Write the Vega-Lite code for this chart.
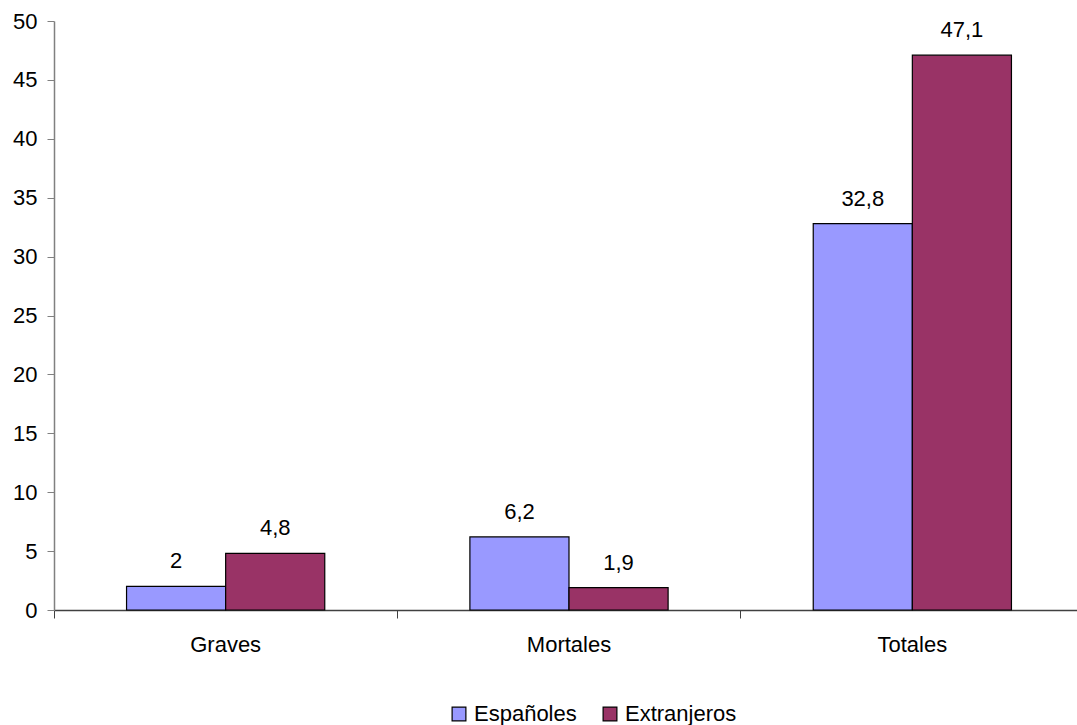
{
  "$schema": "https://vega.github.io/schema/vega-lite/v6.json",
  "width": 1030,
  "height": 589,
  "autosize": {"type": "none"},
  "padding": {"left": 54, "top": 21, "right": 0, "bottom": 115},
  "background": "white",
  "config": {
    "view": {"stroke": null},
    "font": "Liberation Sans",
    "locale": {"number": {"decimal": ",", "thousands": ".", "grouping": [3], "currency": ["", " €"]}}
  },
  "data": {
    "values": [
      {"categoria": "Graves", "grupo": "Españoles", "valor": 2},
      {"categoria": "Graves", "grupo": "Extranjeros", "valor": 4.8},
      {"categoria": "Mortales", "grupo": "Españoles", "valor": 6.2},
      {"categoria": "Mortales", "grupo": "Extranjeros", "valor": 1.9},
      {"categoria": "Totales", "grupo": "Españoles", "valor": 32.8},
      {"categoria": "Totales", "grupo": "Extranjeros", "valor": 47.1}
    ]
  },
  "resolve": {"axis": {"x": "independent"}},
  "layer": [
    {
      "mark": {"type": "bar", "stroke": "black", "strokeWidth": 1.2},
      "encoding": {
        "x": {
          "field": "categoria", "type": "nominal", "sort": null,
          "scale": {"paddingInner": 0.4227, "paddingOuter": 0.2113},
          "axis": {"orient": "bottom", "title": null, "labels": false, "bandPosition": -0.366, "domainColor": "#404040", "domainWidth": 1.5, "tickColor": "#404040", "tickSize": 8}
        },
        "xOffset": {"field": "grupo", "type": "nominal", "sort": null, "scale": {"paddingInner": 0, "paddingOuter": 0}},
        "y": {
          "field": "valor", "type": "quantitative",
          "scale": {"domain": [0, 50], "nice": false},
          "axis": {"title": null, "values": [0,5,10,15,20,25,30,35,40,45,50], "format": "d", "grid": false, "domainColor": "#808080", "domainWidth": 1.5, "tickColor": "#808080", "tickSize": 7, "labelFontSize": 22, "labelColor": "black", "labelPadding": 10}
        },
        "color": {
          "field": "grupo", "type": "nominal", "sort": null,
          "scale": {"domain": ["Españoles", "Extranjeros"], "range": ["#9999FF", "#993366"]},
          "legend": {
            "title": null, "orient": "none", "direction": "horizontal",
            "legendX": 394, "legendY": 682,
            "symbolType": "square", "symbolSize": 190, "symbolStrokeColor": "black", "symbolStrokeWidth": 1.2, "symbolOpacity": 1,
            "labelFontSize": 22, "labelColor": "black", "columnPadding": 22, "labelOffset": 4
          }
        }
      }
    },
    {
      "mark": {"type": "text", "fontSize": 22, "color": "black", "baseline": "alphabetic", "dy": -18},
      "encoding": {
        "x": {
          "field": "categoria", "type": "nominal", "sort": null,
          "axis": {"orient": "bottom", "title": null, "ticks": false, "domain": false, "labelFontSize": 22, "labelColor": "black", "labelPadding": 24, "labelAngle": 0}
        },
        "xOffset": {"field": "grupo", "type": "nominal", "sort": null},
        "y": {"field": "valor", "type": "quantitative"},
        "text": {"field": "valor", "type": "quantitative", "format": ".1~f"}
      }
    }
  ]
}
